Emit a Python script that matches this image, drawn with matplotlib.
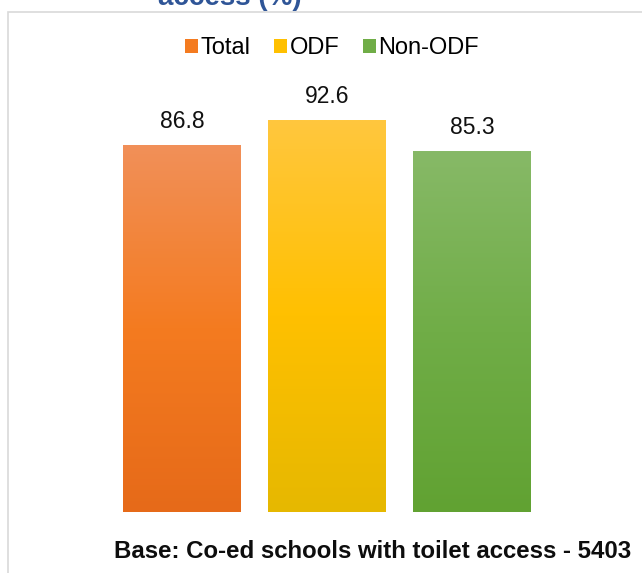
import numpy as np
import matplotlib
matplotlib.use('Agg')
from matplotlib import pyplot as plt
from matplotlib.patches import Rectangle
from matplotlib.colors import LinearSegmentedColormap

plt.rcParams['font.family'] = ['Liberation Sans', 'DejaVu Sans']

categories = ['Total', 'ODF', 'Non-ODF']
values = [86.8, 92.6, 85.3]
# (top, middle, bottom) colours of each gradient fill
gradients = [('#F19059', '#F47B20', '#E66A19'),
             ('#FFC73E', '#FFC000', '#E6B800'),
             ('#87B967', '#70AD47', '#61A232')]

W, H = 642, 573
fig = plt.figure(figsize=(W / 100, H / 100), dpi=100)

# chart frame (cut by the picture at the right and bottom)
fig.patches.append(Rectangle((8 / W, -0.1), 1.2, 1 - 12 / H + 0.1, transform=fig.transFigure,
                             facecolor='white', edgecolor='#D9D9D9', linewidth=1.2, zorder=-5))

ax = fig.add_axes([109.5 / W, 1 - 512 / H, 435 / W, 423 / H])
ax.set_zorder(2)
ax.axis('off')

bar_w = 0.81
handles = []
for i, (cat, val, g) in enumerate(zip(categories, values, gradients)):
    cmap = LinearSegmentedColormap.from_list('g%d' % i, [g[2], g[1], g[0]])
    rect = Rectangle((i - bar_w / 2, 0), bar_w, val, facecolor='none', edgecolor='none')
    ax.add_patch(rect)
    grad = np.linspace(0, 1, 256).reshape(-1, 1)
    im = ax.imshow(grad, extent=(i - bar_w / 2, i + bar_w / 2, 0, val), origin='lower',
                   cmap=cmap, aspect='auto', zorder=2)
    im.set_clip_path(rect)
    ax.text(i, val + 4.0, f'{val:.1f}', ha='center', va='baseline', fontsize=16.5, color='#111111')
    handles.append(Rectangle((0, 0), 1, 1, facecolor=g[1], edgecolor='none', label=cat))

ax.set_xlim(-0.5, 2.5)
ax.set_ylim(0, 100)

fig.legend(handles=handles, loc='center', bbox_to_anchor=(332 / W, 1 - 48 / H), ncol=3,
           frameon=False, fontsize=17, handlelength=0.55, handleheight=0.55,
           handletextpad=0.1, columnspacing=1.0, borderaxespad=0)

fig.text(373 / W, 1 - 552 / H, 'Base: Co-ed schools with toilet access - 5403', ha='center', va='center',
         fontsize=17.3, fontweight='bold', color='#0D0D0D')

# chart title, mostly cut off by the top of the picture
fig.text(230 / W, 1 - 5 / H, 'access (%)', ha='center', va='baseline', fontsize=20,
         fontweight='bold', color='#2F5597')

fig.savefig('out.png', dpi=100)
